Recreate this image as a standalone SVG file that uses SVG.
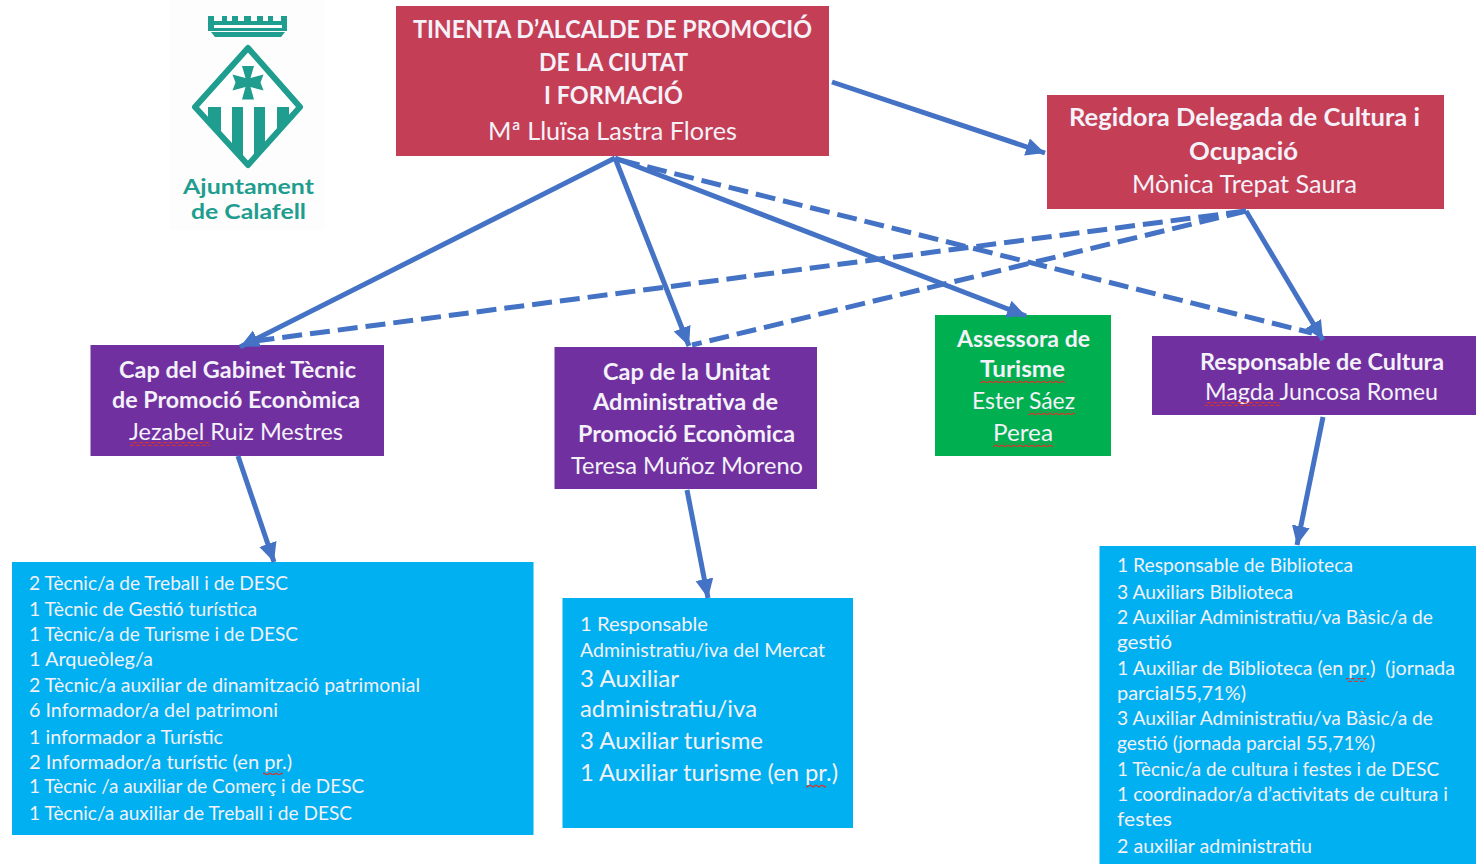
<svg xmlns="http://www.w3.org/2000/svg" width="1476" height="864" viewBox="0 0 1476 864">
<style>
text{font-family:"Lato","Carlito","Liberation Sans",sans-serif;fill:#f4f1f8;white-space:pre}
.b{font-weight:700}
.t{font-size:25px}
.h{font-size:23.5px}
.s{font-size:19px}
.m{font-size:22.5px}
.r{fill:#c43e56}
.p{fill:#7030a0}
.g{fill:#00b050}
.c{fill:#00b0f0}
.a{fill:none;stroke:#4472c4;stroke-width:5}
.e{fill:none;stroke:#4472c4;stroke-width:5;stroke-dasharray:20 8}
.l text{fill:#1f9d8f;font-weight:700;font-size:21.500px}
.w{fill:url(#wave)}
</style>
<defs>
<marker id="ah" markerUnits="userSpaceOnUse" markerWidth="22" markerHeight="20" refX="19" refY="9" orient="auto"><path d="M0 0L19 9L0 18Z" fill="#4472c4"/></marker>
<pattern id="wave" patternUnits="userSpaceOnUse" width="6" height="4"><path d="M0 1L3 3L6 1" fill="none" stroke="#d9342b" stroke-width="1.2"/></pattern>
<clipPath id="dia"><path d="M248 48L300 107L248 165L195 107Z"/></clipPath>
</defs>
<rect width="1476" height="864" fill="#fff"/>
<g id="logo" class="l">
<rect x="170" y="0" width="155" height="230" fill="#fdfdfd"/>
<path d="M208 16h6v5h8v-5h5v5h5v-5h6v5h6v-5h7v5h6v-5h6v5h5v-5h5v5h8v-5h6v15h-79ZM214 25v3h68v-3Z" fill="#1f9d8f" fill-rule="evenodd"/>
<path d="M211 32h74l-4 5h-66Z" fill="#1f9d8f"/>
<path d="M248 48L300 107L248 165L195 107Z" fill="#fff" stroke="#1f9d8f" stroke-width="6" stroke-linejoin="round"/>
<path d="M242 66h12l-3.500 12 13-3.500-3 8 3 8-13-3.500 3.500 12.500h-12l3.500-12.500-13 3.500 3-8-3-8 13 3.500Z" fill="#1f9d8f"/>
<g clip-path="url(#dia)" fill="#1f9d8f"><rect x="208" y="107" width="13" height="60"/><rect x="232" y="107" width="11" height="60"/><rect x="254" y="107" width="11" height="60"/><rect x="277" y="107" width="12" height="60"/></g>
<text x="183" y="194" textLength="131" lengthAdjust="spacingAndGlyphs">Ajuntament</text>
<text x="191" y="219" textLength="115" lengthAdjust="spacingAndGlyphs">de Calafell</text>
</g>
<g id="tinenta"><rect class="r" x="396" y="6" width="433" height="150"/>
<text class="b t" x="413" y="38" textLength="399" lengthAdjust="spacingAndGlyphs">TINENTA D’ALCALDE DE PROMOCIÓ</text>
<text class="b t" x="539" y="71" textLength="149" lengthAdjust="spacingAndGlyphs">DE LA CIUTAT</text>
<text class="b t" x="544" y="104" textLength="139" lengthAdjust="spacingAndGlyphs">I FORMACIÓ</text>
<text class="t" x="488" y="140" textLength="249" lengthAdjust="spacingAndGlyphs">Mª Lluïsa Lastra Flores</text></g>
<g id="regidora"><rect class="r" x="1047" y="95" width="397" height="114"/>
<text class="b t" x="1069" y="126" textLength="351" lengthAdjust="spacingAndGlyphs">Regidora Delegada de Cultura i</text>
<text class="b t" x="1189" y="160" textLength="109" lengthAdjust="spacingAndGlyphs">Ocupació</text>
<text class="t" x="1132" y="193" textLength="225" lengthAdjust="spacingAndGlyphs">Mònica Trepat Saura</text></g>
<g id="gabinet"><rect class="p" x="90.500" y="345" width="293.500" height="111"/>
<text class="b h" x="119" y="378" textLength="237" lengthAdjust="spacingAndGlyphs">Cap del Gabinet Tècnic</text>
<text class="b h" x="112" y="408" textLength="248" lengthAdjust="spacingAndGlyphs">de Promoció Econòmica</text>
<text class="h" x="129" y="440" textLength="214" lengthAdjust="spacingAndGlyphs">Jezabel Ruiz Mestres</text>
<rect class="w" x="130" y="442" width="80" height="4"/></g>
<g id="unitat"><rect class="p" x="554.500" y="347" width="262.500" height="142"/>
<text class="b h" x="603" y="380" textLength="167" lengthAdjust="spacingAndGlyphs">Cap de la Unitat</text>
<text class="b h" x="593" y="410" textLength="185" lengthAdjust="spacingAndGlyphs">Administrativa de</text>
<text class="b h" x="578" y="442" textLength="217" lengthAdjust="spacingAndGlyphs">Promoció Econòmica</text>
<text class="h" x="571" y="473.500" textLength="232" lengthAdjust="spacingAndGlyphs">Teresa Muñoz Moreno</text></g>
<g id="assessora"><rect class="g" x="935" y="315" width="176" height="141"/>
<text class="b h" x="957" y="347" textLength="133" lengthAdjust="spacingAndGlyphs">Assessora de</text>
<text class="b h" x="980" y="377" textLength="85" lengthAdjust="spacingAndGlyphs">Turisme</text>
<text class="h" x="972" y="409" textLength="103" lengthAdjust="spacingAndGlyphs">Ester Sáez</text>
<text class="h" x="993" y="441" textLength="60" lengthAdjust="spacingAndGlyphs">Perea</text>
<rect class="w" x="980" y="379" width="85" height="4"/><rect class="w" x="1028" y="411" width="47" height="4"/><rect class="w" x="993" y="443" width="60" height="4"/></g>
<g id="cultura"><rect class="p" x="1152" y="336" width="324" height="79"/>
<text class="b h" x="1200" y="369.500" textLength="244" lengthAdjust="spacingAndGlyphs">Responsable de Cultura</text>
<text class="h" x="1205" y="399.500" textLength="233" lengthAdjust="spacingAndGlyphs">Magda Juncosa Romeu</text>
<rect class="w" x="1205" y="402" width="75" height="4"/></g>
<g id="llista-gabinet"><rect class="c" x="12" y="562" width="521.500" height="273"/>
<text class="s" x="29" y="590" textLength="259" lengthAdjust="spacingAndGlyphs">2 Tècnic/a de Treball i de DESC</text>
<text class="s" x="29" y="616" textLength="228" lengthAdjust="spacingAndGlyphs">1 Tècnic de Gestió turística</text>
<text class="s" x="29" y="641" textLength="269" lengthAdjust="spacingAndGlyphs">1 Tècnic/a de Turisme i de DESC</text>
<text class="s" x="29" y="666" textLength="124" lengthAdjust="spacingAndGlyphs">1 Arqueòleg/a</text>
<text class="s" x="29" y="692" textLength="391" lengthAdjust="spacingAndGlyphs">2 Tècnic/a auxiliar de dinamització patrimonial</text>
<text class="s" x="29" y="717" textLength="249" lengthAdjust="spacingAndGlyphs">6 Informador/a del patrimoni</text>
<text class="s" x="29" y="743.500" textLength="194" lengthAdjust="spacingAndGlyphs">1 informador a Turístic</text>
<text class="s" x="29" y="768.500" textLength="263" lengthAdjust="spacingAndGlyphs">2 Informador/a turístic (en pr.)</text>
<text class="s" x="29" y="793" textLength="335" lengthAdjust="spacingAndGlyphs">1 Tècnic /a auxiliar de Comerç i de DESC</text>
<text class="s" x="29" y="819.500" textLength="323" lengthAdjust="spacingAndGlyphs">1 Tècnic/a auxiliar de Treball i de DESC</text>
<rect class="w" x="263" y="771" width="20" height="4"/></g>
<g id="llista-unitat"><rect class="c" x="562.500" y="598" width="290.500" height="230"/>
<text class="s" x="580" y="630.500" textLength="128" lengthAdjust="spacingAndGlyphs">1 Responsable</text>
<text class="s" x="580" y="657" textLength="245" lengthAdjust="spacingAndGlyphs">Administratiu/iva del Mercat</text>
<text class="m" x="580" y="687" textLength="99" lengthAdjust="spacingAndGlyphs">3 Auxiliar</text>
<text class="m" x="580" y="717" textLength="177" lengthAdjust="spacingAndGlyphs">administratiu/iva</text>
<text class="m" x="580" y="748.500" textLength="183" lengthAdjust="spacingAndGlyphs">3 Auxiliar turisme</text>
<text class="m" x="580" y="780.500" textLength="258" lengthAdjust="spacingAndGlyphs">1 Auxiliar turisme (en pr.)</text>
<rect class="w" x="806" y="784" width="20" height="4"/></g>
<g id="llista-cultura"><rect class="c" x="1099.500" y="546" width="376.500" height="318"/>
<text class="s" x="1117" y="572" textLength="236" lengthAdjust="spacingAndGlyphs">1 Responsable de Biblioteca</text>
<text class="s" x="1117" y="598.500" textLength="176" lengthAdjust="spacingAndGlyphs">3 Auxiliars Biblioteca</text>
<text class="s" x="1117" y="623.500" textLength="316" lengthAdjust="spacingAndGlyphs">2 Auxiliar Administratiu/va Bàsic/a de</text>
<text class="s" x="1117" y="648.500" textLength="55" lengthAdjust="spacingAndGlyphs">gestió</text>
<text class="s" x="1117" y="674.500" textLength="338" lengthAdjust="spacingAndGlyphs">1 Auxiliar de Biblioteca (en pr.)  (jornada</text>
<text class="s" x="1117" y="699.500" textLength="129" lengthAdjust="spacingAndGlyphs">parcial55,71%)</text>
<text class="s" x="1117" y="725" textLength="316" lengthAdjust="spacingAndGlyphs">3 Auxiliar Administratiu/va Bàsic/a de</text>
<text class="s" x="1117" y="750" textLength="258" lengthAdjust="spacingAndGlyphs">gestió (jornada parcial 55,71%)</text>
<text class="s" x="1117" y="775.500" textLength="322" lengthAdjust="spacingAndGlyphs">1 Tècnic/a de cultura i festes i de DESC</text>
<text class="s" x="1117" y="801" textLength="331" lengthAdjust="spacingAndGlyphs">1 coordinador/a d’activitats de cultura i</text>
<text class="s" x="1117" y="826" textLength="55" lengthAdjust="spacingAndGlyphs">festes</text>
<text class="s" x="1117" y="852.500" textLength="195" lengthAdjust="spacingAndGlyphs">2 auxiliar administratiu</text>
<rect class="w" x="1346" y="678" width="20" height="4"/></g>
<g id="connectors">
<path class="a" d="M832 82L1045 153" marker-end="url(#ah)"/>
<path class="a" d="M615 158L240 347" marker-end="url(#ah)"/>
<path class="a" d="M615 158L689 346" marker-end="url(#ah)"/>
<path class="a" d="M615 158L1026 316" marker-end="url(#ah)"/>
<path class="e" d="M620 160L1312 333"/>
<path class="e" d="M1246 211L255 341"/>
<path class="e" d="M1246 211L692 345"/>
<path class="a" d="M1246 211L1323 340" marker-end="url(#ah)"/>
<path class="a" d="M238 456L274 562" marker-end="url(#ah)"/>
<path class="a" d="M687 490L708 598" marker-end="url(#ah)"/>
<path class="a" d="M1323 417L1297 545" marker-end="url(#ah)"/>
</g>
</svg>
